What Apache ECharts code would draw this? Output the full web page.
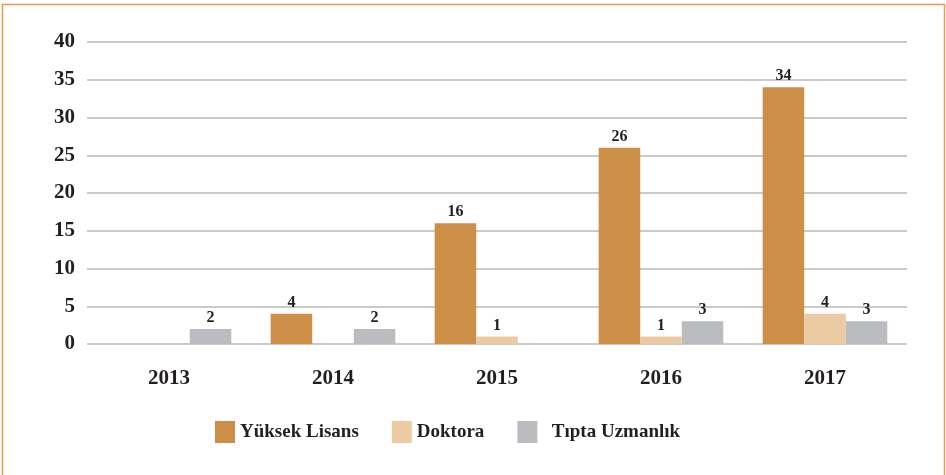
<!DOCTYPE html>
<html>
<head>
<meta charset="utf-8">
<script src="https://cdn.jsdelivr.net/npm/echarts@6/dist/echarts.min.js"></script>
<style>
  html, body { margin: 0; padding: 0; background: #fff; }
  #chart { width: 946px; height: 475px; }
</style>
</head>
<body>
<div id="chart"></div>
<script>
const years = ['2013', '2014', '2015', '2016', '2017']
const yuksekLisans = [0, 4, 16, 26, 34]
const doktora = [0, 0, 1, 1, 4]
const tiptaUzmanlik = [2, 2, 0, 3, 3]

const font = '"Liberation Serif", "DejaVu Serif", serif'

const label = {
  show: true,
  position: 'top',
  distance: 3,
  fontFamily: font,
  fontWeight: 'bold',
  fontSize: 16,
  color: '#231f20',
  formatter: (p) => (p.value === 0 ? '' : p.value),
}

const bar = (name, data, color) => ({
  name,
  type: 'bar',
  data,
  barGap: 0,
  barCategoryGap: '24%',
  itemStyle: { color },
  label,
  emphasis: { disabled: true },
})

const chart = echarts.init(document.getElementById('chart'))
chart.setOption({
  animation: false,
  graphic: [
    {
      type: 'rect',
      shape: { x: 2.5, y: 4.5, width: 942, height: 490 },
      style: { fill: 'none', stroke: '#e39d4f', lineWidth: 1.5 },
      silent: true,
    },
  ],
  grid: { left: 87, right: 39, top: 42, bottom: 131 },
  legend: {
    top: 421,
    left: 215,
    padding: 0,
    icon: 'rect',
    itemWidth: 20,
    itemHeight: 22,
    itemGap: 33,
    textStyle: {
      fontFamily: font,
      fontWeight: 'bold',
      fontSize: 19,
      color: '#231f20',
    },
    formatter: (name) => (name === 'Tıpta Uzmanlık' ? '  ' + name : name),
    data: ['Yüksek Lisans', 'Doktora', 'Tıpta Uzmanlık'],
  },
  xAxis: {
    type: 'category',
    data: years,
    axisLine: { show: false },
    axisTick: { show: false },
    axisLabel: {
      margin: 24,
      fontFamily: font,
      fontWeight: 'bold',
      fontSize: 21,
      color: '#231f20',
    },
  },
  yAxis: {
    type: 'value',
    min: 0,
    max: 40,
    interval: 5,
    axisLine: { show: false },
    axisTick: { show: false },
    splitLine: { lineStyle: { color: '#b9b9b9', width: 1.5 } },
    axisLabel: {
      margin: 12,
      fontFamily: font,
      fontWeight: 'bold',
      fontSize: 21,
      color: '#231f20',
    },
  },
  series: [
    bar('Yüksek Lisans', yuksekLisans, '#cd8e47'),
    bar('Doktora', doktora, '#eccba3'),
    bar('Tıpta Uzmanlık', tiptaUzmanlik, '#bbbcc0'),
  ],
})
</script>
</body>
</html>
